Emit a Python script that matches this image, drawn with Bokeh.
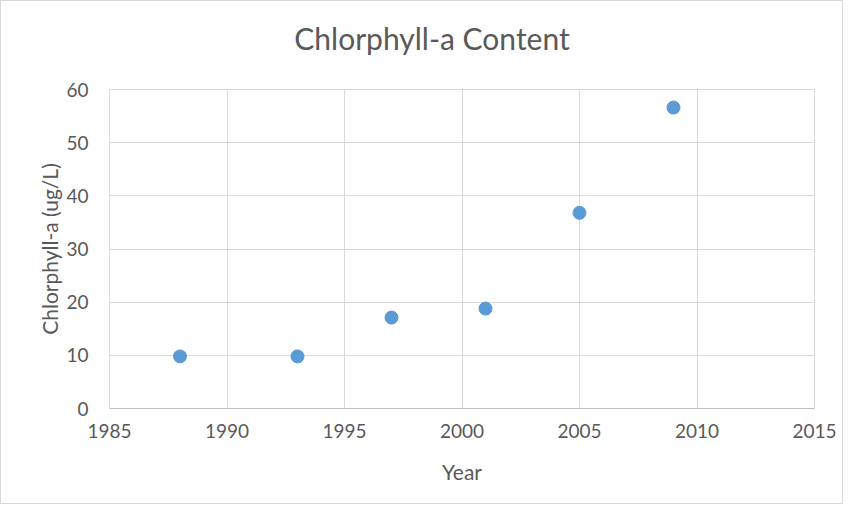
from bokeh.plotting import figure
from bokeh.models import FixedTicker, Range1d, Div
from bokeh.layouts import column
from bokeh.embed import file_html
from bokeh.resources import INLINE

years = [1988, 1993, 1997, 2001, 2005, 2009]
chl = [9.8, 9.8, 17.1, 18.8, 36.8, 56.6]
x_ticks = [1985, 1990, 1995, 2000, 2005, 2010, 2015]
y_ticks = [0, 10, 20, 30, 40, 50, 60]
title_text = "Chlorphyll-a Content"

FONT = "Lato"
GRID = "#d9d9d9"
TXT = "#595959"

title = Div(
    text=('<div style="width:841px;height:78px;line-height:74px;text-align:center;'
          'padding-left:21px;box-sizing:border-box;font-family:Lato;font-size:30px;'
          'color:#595959;white-space:nowrap;">' + title_text + '</div>'),
    width=841, height=78, margin=0)

p = figure(width=841, height=424, output_backend="svg", toolbar_location=None,
           x_range=Range1d(1985, 2015), y_range=Range1d(0, 60),
           min_border_left=108, min_border_right=28, min_border_top=10, min_border_bottom=95)

p.scatter(years, chl, size=13, color="#5b9bd5", line_color="#5b9bd5")

p.xaxis.ticker = FixedTicker(ticks=x_ticks)
p.yaxis.ticker = FixedTicker(ticks=y_ticks)
for ax in (p.xaxis[0], p.yaxis[0]):
    ax.major_tick_line_color = None
    ax.minor_tick_line_color = None
    ax.major_label_text_font = FONT
    ax.major_label_text_font_size = "19px"
    ax.major_label_text_color = TXT
    ax.axis_label_text_font = FONT
    ax.axis_label_text_font_size = "21px"
    ax.axis_label_text_color = TXT
    ax.axis_label_text_font_style = "normal"

p.xaxis.axis_label = "Year"
p.yaxis.axis_label = "Chlorphyll-a (ug/L)"
p.xaxis.axis_line_color = "#bfbfbf"
p.yaxis.axis_line_color = None
p.xaxis.major_label_standoff = 9
p.yaxis.major_label_standoff = 15
p.xaxis.axis_label_standoff = 18
p.yaxis.axis_label_standoff = 1

p.xgrid.grid_line_color = GRID
p.ygrid.grid_line_color = GRID
p.outline_line_color = GRID

layout = column(title, p, spacing=0)
layout.styles = {"border": "1px solid #d9d9d9"}

open("out.html", "w").write(file_html(layout, INLINE))
